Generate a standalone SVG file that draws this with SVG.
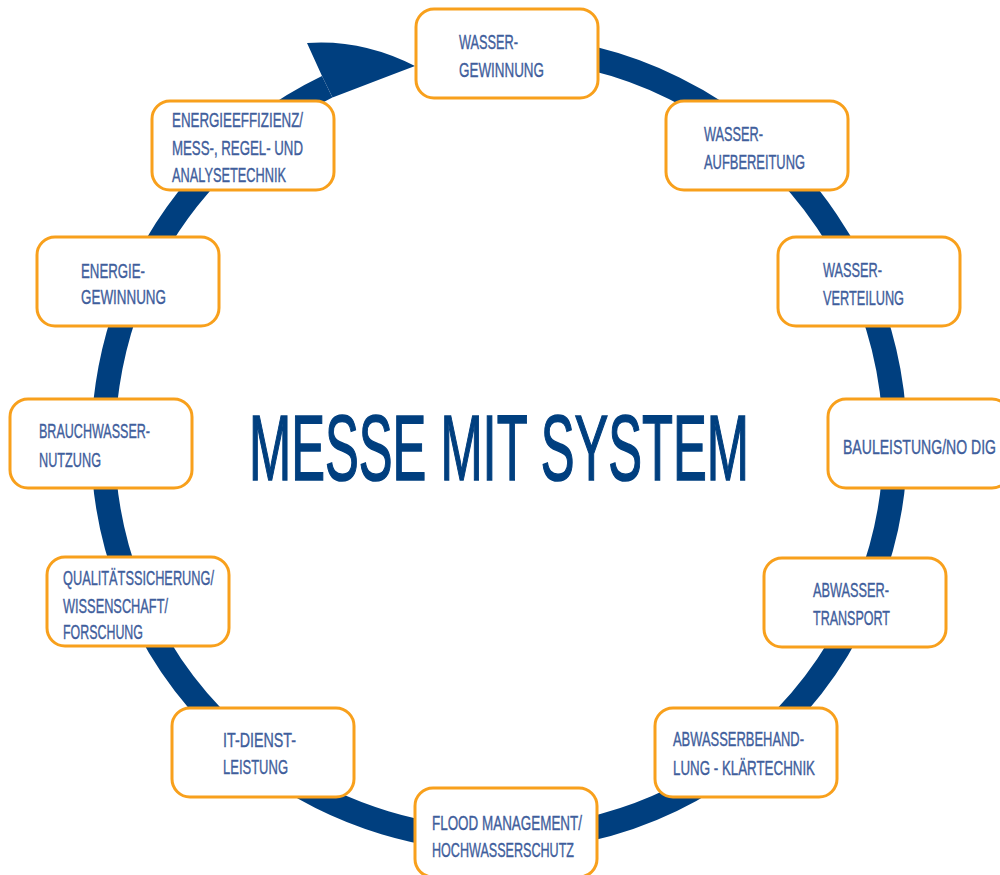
<svg xmlns="http://www.w3.org/2000/svg" width="1000" height="875" viewBox="0 0 1000 875">
<defs>
<style>
.box{fill:#ffffff;stroke:#f8a01c;stroke-width:3}
.lbl{font-family:"Liberation Sans",Arial,sans-serif;font-size:21px;fill:#3f5e9c;stroke:#3f5e9c;stroke-width:0.4}
.title{font-family:"Liberation Sans",Arial,sans-serif;font-size:92px;fill:#003f7f;stroke:#003f7f;stroke-width:1.6}
.ring{fill:none;stroke:#003f7f;stroke-width:24}
.head{fill:#003f7f}
</style>
</defs>
<rect width="1000" height="875" fill="#ffffff"/>
<g id="connectors">
<path class="ring" d="M 500 47.5 A 396 396 0 1 1 327.2 86.8"/>
<path class="head" d="M 322 76 L 307 43 Q 362 39 415 66 Q 378 80 332.5 97.6 Z"/>
</g>
<text class="title" x="249" y="480" textLength="500" lengthAdjust="spacingAndGlyphs">MESSE MIT SYSTEM</text>
<g id="n1"><rect class="box" x="416" y="9" width="182" height="89" rx="18"/>
<text class="lbl" x="459" y="49" textLength="59" lengthAdjust="spacingAndGlyphs">WASSER-</text>
<text class="lbl" x="459" y="77" textLength="85" lengthAdjust="spacingAndGlyphs">GEWINNUNG</text></g>
<g id="n2"><rect class="box" x="666" y="101" width="182" height="89" rx="18"/>
<text class="lbl" x="704" y="141" textLength="59" lengthAdjust="spacingAndGlyphs">WASSER-</text>
<text class="lbl" x="704" y="169" textLength="101" lengthAdjust="spacingAndGlyphs">AUFBEREITUNG</text></g>
<g id="n3"><rect class="box" x="778" y="237" width="182" height="89" rx="18"/>
<text class="lbl" x="823" y="277" textLength="59" lengthAdjust="spacingAndGlyphs">WASSER-</text>
<text class="lbl" x="823" y="305" textLength="81" lengthAdjust="spacingAndGlyphs">VERTEILUNG</text></g>
<g id="n4"><rect class="box" x="828" y="399" width="182" height="89" rx="18"/>
<text class="lbl" x="843" y="454" textLength="153" lengthAdjust="spacingAndGlyphs">BAULEISTUNG/NO DIG</text></g>
<g id="n5"><rect class="box" x="764" y="558" width="182" height="89" rx="18"/>
<text class="lbl" x="813" y="597" textLength="76" lengthAdjust="spacingAndGlyphs">ABWASSER-</text>
<text class="lbl" x="813" y="625" textLength="77" lengthAdjust="spacingAndGlyphs">TRANSPORT</text></g>
<g id="n6"><rect class="box" x="655" y="708" width="182" height="89" rx="18"/>
<text class="lbl" x="673" y="746" textLength="131" lengthAdjust="spacingAndGlyphs">ABWASSERBEHAND-</text>
<text class="lbl" x="673" y="775" textLength="142" lengthAdjust="spacingAndGlyphs">LUNG - KLÄRTECHNIK</text></g>
<g id="n7"><rect class="box" x="415" y="788" width="182" height="89" rx="18"/>
<text class="lbl" x="432" y="830" textLength="150" lengthAdjust="spacingAndGlyphs">FLOOD MANAGEMENT/</text>
<text class="lbl" x="432" y="857" textLength="142" lengthAdjust="spacingAndGlyphs">HOCHWASSERSCHUTZ</text></g>
<g id="n8"><rect class="box" x="172" y="708" width="182" height="89" rx="18"/>
<text class="lbl" x="223" y="747" textLength="73" lengthAdjust="spacingAndGlyphs">IT-DIENST-</text>
<text class="lbl" x="223" y="774" textLength="65" lengthAdjust="spacingAndGlyphs">LEISTUNG</text></g>
<g id="n9"><rect class="box" x="47" y="557" width="182" height="89" rx="18"/>
<text class="lbl" x="63" y="585" textLength="151" lengthAdjust="spacingAndGlyphs">QUALITÄTSSICHERUNG/</text>
<text class="lbl" x="63" y="613" textLength="105" lengthAdjust="spacingAndGlyphs">WISSENSCHAFT/</text>
<text class="lbl" x="63" y="639" textLength="80" lengthAdjust="spacingAndGlyphs">FORSCHUNG</text></g>
<g id="n10"><rect class="box" x="10" y="399" width="182" height="89" rx="18"/>
<text class="lbl" x="39" y="438" textLength="111" lengthAdjust="spacingAndGlyphs">BRAUCHWASSER-</text>
<text class="lbl" x="39" y="467" textLength="62" lengthAdjust="spacingAndGlyphs">NUTZUNG</text></g>
<g id="n11"><rect class="box" x="37" y="237" width="182" height="89" rx="18"/>
<text class="lbl" x="81" y="278" textLength="64" lengthAdjust="spacingAndGlyphs">ENERGIE-</text>
<text class="lbl" x="81" y="304" textLength="85" lengthAdjust="spacingAndGlyphs">GEWINNUNG</text></g>
<g id="n12"><rect class="box" x="152" y="101" width="182" height="89" rx="18"/>
<text class="lbl" x="172" y="127" textLength="131" lengthAdjust="spacingAndGlyphs">ENERGIEEFFIZIENZ/</text>
<text class="lbl" x="172" y="155" textLength="131" lengthAdjust="spacingAndGlyphs">MESS-, REGEL- UND</text>
<text class="lbl" x="172" y="182" textLength="114" lengthAdjust="spacingAndGlyphs">ANALYSETECHNIK</text></g>
</svg>
